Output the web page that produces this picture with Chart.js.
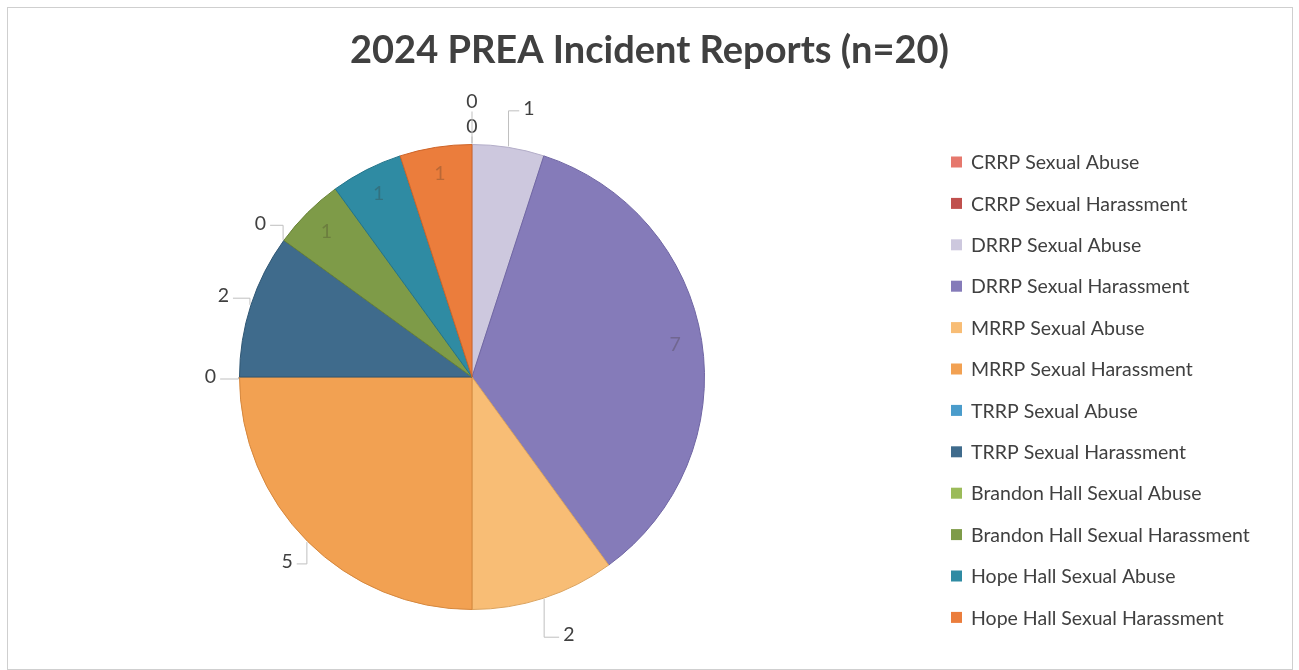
<!DOCTYPE html>
<html>
<head>
<meta charset="utf-8">
<script src="https://cdn.jsdelivr.net/npm/chart.js@4"></script>
<style>
    html, body { margin: 0; padding: 0; background: #ffffff; }
    #wrap { width: 1299px; height: 670px; }
</style>
</head>
<body>
<div id="wrap"><canvas id="prea-pie" width="1299" height="670"></canvas></div>
<script>
// Chart data - 2024 PREA incident reports (n=20)
const chartTitle = '2024 PREA Incident Reports (n=20)';
const categories = [
    'CRRP Sexual Abuse',
    'CRRP Sexual Harassment',
    'DRRP Sexual Abuse',
    'DRRP Sexual Harassment',
    'MRRP Sexual Abuse',
    'MRRP Sexual Harassment',
    'TRRP Sexual Abuse',
    'TRRP Sexual Harassment',
    'Brandon Hall Sexual Abuse',
    'Brandon Hall Sexual Harassment',
    'Hope Hall Sexual Abuse',
    'Hope Hall Sexual Harassment'
];
const incidentCounts = [0, 0, 1, 7, 2, 5, 0, 2, 0, 1, 1, 1];

// Styling
const sliceColors = ['#e6786d', '#c0504d', '#cdc8de', '#857bb9', '#f8bd75', '#f2a152',
                     '#4a9ccb', '#3f6b8c', '#9bbb59', '#7e9b48', '#2f8ba3', '#eb7d3c'];
const sliceBorders = ['#c9625a', '#a3403d', '#b3adc8', '#6f65a3', '#dba35e', '#d5873d',
                      '#3a84ae', '#2f5673', '#83a145', '#688236', '#22748a', '#cd6428'];
// where Excel put each data label ("best fit")
const labelPlacement = ['out', 'out', 'out', 'in', 'out', 'out', 'out', 'out', 'out', 'in', 'in', 'in'];

const textColor = '#404040';
const labelFont = '19.5px Lato';

// frame + title + legend drawn around the pie
const decorPlugin = {
    id: 'decor',
    beforeDraw: function(chart) {
        const ctx = chart.ctx;
        ctx.save();
        ctx.strokeStyle = '#cfcfcf';
        ctx.lineWidth = 1;
        ctx.strokeRect(7.5, 7.5, 1285, 662);

        ctx.font = 'bold 38px Lato';
        ctx.fillStyle = textColor;
        ctx.textAlign = 'center';
        ctx.textBaseline = 'middle';
        ctx.fillText(chartTitle, 649.5, 51);
        ctx.restore();
    },
    afterDraw: function(chart) {
        const ctx = chart.ctx;
        const colors = chart.data.datasets[0].backgroundColor;
        ctx.save();
        ctx.font = labelFont;
        ctx.textAlign = 'left';
        ctx.textBaseline = 'middle';
        chart.data.labels.forEach(function(label, i) {
            const y = 162 + i * 41.4;
            ctx.fillStyle = colors[i];
            ctx.fillRect(951, y - 5.5, 11, 11);
            ctx.fillStyle = textColor;
            ctx.fillText(label, 971, y + 1);
        });
        ctx.restore();
    }
};

// data labels with leader lines
const dataLabelPlugin = {
    id: 'sliceLabels',
    afterDatasetsDraw: function(chart) {
        const ctx = chart.ctx;
        const meta = chart.getDatasetMeta(0);
        const values = chart.data.datasets[0].data;
        const placed = [];
        ctx.save();
        ctx.font = labelFont;
        ctx.textAlign = 'center';
        ctx.textBaseline = 'middle';
        meta.data.forEach(function(arc, i) {
            const p = arc.getProps(['x', 'y', 'startAngle', 'endAngle', 'outerRadius'], true);
            const mid = (p.startAngle + p.endAngle) / 2;
            const ux = Math.cos(mid);
            const uy = Math.sin(mid);
            const text = String(values[i]);
            const w = ctx.measureText(text).width;

            if (labelPlacement[i] === 'in') {
                const r = p.outerRadius * 0.885;
                ctx.fillStyle = 'rgba(60,50,40,0.28)';
                ctx.fillText(text, p.x + ux * r, p.y + uy * r);
                return;
            }

            // labels straight above the pie sit closer in
            const d = Math.abs(ux) < 0.1 ? 18 : 29;
            let lx = p.x + ux * (p.outerRadius + d);
            let ly = p.y + uy * (p.outerRadius + d);
            if (Math.abs(ux) > 0.1 && Math.abs(ux) < 0.5) {
                lx += Math.sign(ux) * 16;
                ly += uy * 10;
            }
            // push labels stacked on the same spot further out
            placed.forEach(function(q) {
                if (Math.hypot(q.x - lx, q.y - ly) < 18) {
                    lx += ux * 25;
                    ly += uy * 25;
                }
            });
            placed.push({ x: lx, y: ly });

            const ex = p.x + ux * (p.outerRadius + 1);
            const ey = p.y + uy * (p.outerRadius + 1);
            let px, py;
            if (lx < ex - 5) {
                px = lx + w / 2 + 4; py = ly + 2;
            } else if (lx > ex + 5) {
                px = lx - w / 2 - 4; py = ly + 2;
            } else {
                px = lx; py = ly + (uy < 0 ? 10 : -10);
            }

            ctx.strokeStyle = '#bfbfbf';
            ctx.lineWidth = 1;
            ctx.beginPath();
            ctx.moveTo(ex, ey);
            ctx.lineTo(ex, py);
            ctx.lineTo(px, py);
            ctx.stroke();

            ctx.fillStyle = textColor;
            ctx.fillText(text, lx, ly);
        });
        ctx.restore();
    }
};

new Chart(document.getElementById('prea-pie'), {
    type: 'pie',
    data: {
        labels: categories,
        datasets: [{
            data: incidentCounts,
            backgroundColor: sliceColors,
            borderColor: sliceBorders,
            borderWidth: function(c) { return c.raw === 0 ? 0 : 1; }
        }]
    },
    options: {
        responsive: false,
        animation: false,
        layout: {
            padding: { top: 144, bottom: 60, left: 14, right: 369 }
        },
        plugins: {
            legend: { display: false },
            title: { display: false },
            tooltip: { enabled: false }
        }
    },
    plugins: [decorPlugin, dataLabelPlugin]
});
</script>
</body>
</html>
